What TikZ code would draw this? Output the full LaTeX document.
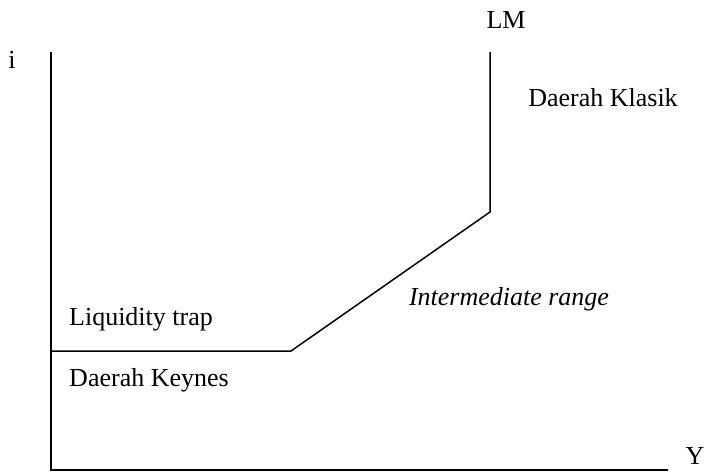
\documentclass[tikz,border=0pt]{standalone}
\usepackage{fontspec}
\setmainfont{Liberation Serif}
\usepackage{tikz}

\begin{document}
\begin{tikzpicture}[
		x=1pt, y=-1pt,
		line width=1.5pt,
		every node/.style={font=\fontsize{26}{31}\selectfont, inner sep=0pt},
%		lbl/.style={anchor=west}
		]
		\useasboundingbox (0,0) rectangle (704,472);
		% axes
		\coordinate (top) at (51,52);
		\coordinate (origin) at (51,470);
		\coordinate (right) at (668,470);
		\draw (top) -- (origin) -- (right);
		\node (i) at (12,60) {i};
		\node (Y) at (695,456) {Y};
		% LM curve
		\coordinate (trap) at (51,351);
		\coordinate (kinka) at (291,351);
		\coordinate (kinkb) at (490,212);
		\coordinate (lmtop) at (490,52);
		\draw (trap) -- (kinka) -- (kinkb) -- (lmtop);
		\node (LM) at (506,20) {LM};
		\node (klasik) at (603,98) {Daerah Klasik};
		\node (inter) at (509,299) {\itshape Intermediate range};
		\node (liquidity) at (141,319) {Liquidity trap};
		\node (keynes) at (149,380) {Daerah Keynes};
\end{tikzpicture}
\end{document}
